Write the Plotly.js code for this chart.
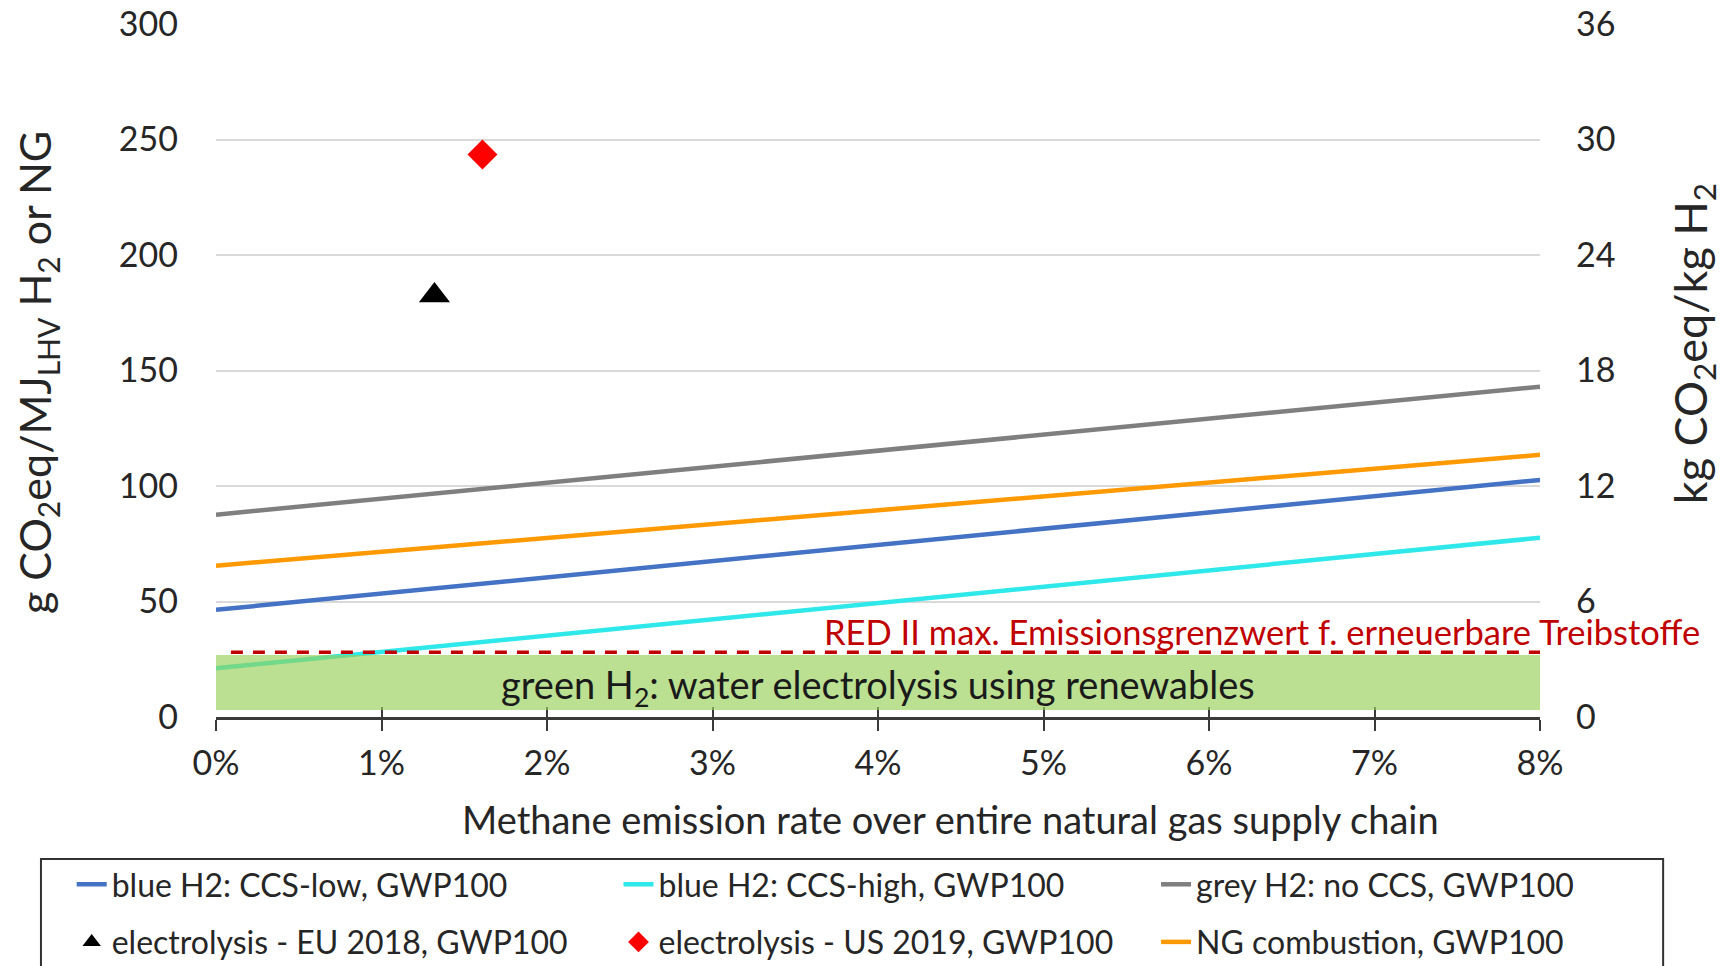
<!DOCTYPE html>
<html>
<head>
<meta charset="utf-8">
<script src="https://cdn.plot.ly/plotly-3.0.1.min.js"></script>
<style>html,body{margin:0;padding:0;background:#fff;}#chart{width:1724px;height:966px;}</style>
</head>
<body>
<div id="chart"></div>
<script>
// ---- data ----
const xPct = [0, 0.08];                 // methane emission rate
const blueLow = [46.4, 102.6];           // blue H2: CCS-low
const blueHigh = [21.1, 77.6];           // blue H2: CCS-high
const greyH2 = [87.6, 143.0];            // grey H2: no CCS
const ngComb = [65.5, 113.5];            // NG combustion
const euX = [0.0132], euY = [182.5];     // electrolysis EU 2018
const usX = [0.0161], usY = [243.5];     // electrolysis US 2019
const greenBandX = [0, 0.08];
const greenBandY = [3.0, 26.8];
const redLimitX = [0.0009, 0.0804];
const redLimitY = 28.0;
const xTickVals = [0, 0.01, 0.02, 0.03, 0.04, 0.05, 0.06, 0.07, 0.08];
const xTickText = ['0%', '1%', '2%', '3%', '4%', '5%', '6%', '7%', '8%'];
const leftTicks = [0, 50, 100, 150, 200, 250, 300];
const rightTicks = [0, 6, 12, 18, 24, 30, 36];

const FONT = 'Lato, "Open Sans", sans-serif';
const TXT = '#262626';

const traces = [
  {x: xPct, y: blueLow, mode: 'lines', name: 'blue H2: CCS-low, GWP100',
   line: {color: '#4472C4', width: 4.5}, legend: 'legend', legendgroup: 'a'},
  {x: euX, y: euY, mode: 'markers', name: 'electrolysis - EU 2018, GWP100',
   marker: {symbol: 'triangle-up', color: '#000000', size: 27}, legend: 'legend', legendgroup: 'b'},
  {x: xPct, y: blueHigh, mode: 'lines', name: 'blue H2: CCS-high, GWP100',
   line: {color: '#2EE8EA', width: 4.5}, legend: 'legend2', legendgroup: 'c'},
  {x: usX, y: usY, mode: 'markers', name: 'electrolysis - US 2019, GWP100',
   marker: {symbol: 'diamond', color: '#FF0000', size: 23}, legend: 'legend2', legendgroup: 'd'},
  {x: xPct, y: greyH2, mode: 'lines', name: 'grey H2: no CCS, GWP100',
   line: {color: '#7F7F7F', width: 4.5}, legend: 'legend3', legendgroup: 'e'},
  {x: xPct, y: ngComb, mode: 'lines', name: 'NG combustion, GWP100',
   line: {color: '#FF9900', width: 4.5}, legend: 'legend3', legendgroup: 'f'},
  // carriers for the secondary axes
  {x: [null], y: [null], yaxis: 'y2', showlegend: false, hoverinfo: 'skip'},
  {x: [null], y: [null], xaxis: 'x2', showlegend: false, hoverinfo: 'skip'}
];

const legendBase = {
  orientation: 'v', yanchor: 'top', xanchor: 'left', y: -0.202,
  bgcolor: 'rgba(0,0,0,0)', borderwidth: 0, tracegroupgap: 13,
  font: {family: FONT, size: 32, color: TXT}
};

const layout = {
  width: 1724, height: 966,
  margin: {l: 216, r: 184, t: 24, b: 249, autoexpand: false},
  paper_bgcolor: '#ffffff', plot_bgcolor: '#ffffff',
  font: {family: FONT, color: TXT},
  xaxis: {
    range: [0, 0.08], tickvals: xTickVals, ticktext: xTickText,
    showgrid: false, zeroline: false, showline: true, linecolor: '#3a3a3a', linewidth: 3,
    ticks: 'outside', ticklen: 11, tickwidth: 2, tickcolor: '#3a3a3a',
    ticklabelstandoff: 3, tickfont: {family: FONT, size: 34, color: TXT}
  },
  xaxis2: {
    overlaying: 'x', anchor: 'y', range: [0, 0.08], tickvals: xTickVals,
    showticklabels: false, showgrid: false, zeroline: false, showline: false,
    ticks: 'inside', ticklen: 10, tickwidth: 2, tickcolor: '#3a3a3a'
  },
  yaxis: {
    range: [0, 300], tickvals: leftTicks, showline: false, zeroline: false,
    showgrid: true, gridcolor: '#D9D9D9', gridwidth: 2, ticks: '',
    ticklabelstandoff: 37, tickfont: {family: FONT, size: 34, color: TXT}
  },
  yaxis2: {
    overlaying: 'y', side: 'right', anchor: 'x', range: [0, 36], tickvals: rightTicks,
    showgrid: false, zeroline: false, showline: false, ticks: '',
    ticklabelstandoff: 35, tickfont: {family: FONT, size: 34, color: TXT}
  },
  showlegend: true,
  legend: Object.assign({}, legendBase, {x: -0.109}),
  legend2: Object.assign({}, legendBase, {x: 0.304}),
  legend3: Object.assign({}, legendBase, {x: 0.71}),
  shapes: [
    {type: 'rect', xref: 'x', yref: 'y', x0: greenBandX[0], x1: greenBandX[1],
     y0: greenBandY[0], y1: greenBandY[1], fillcolor: 'rgba(150,207,86,0.65)',
     line: {width: 0}, layer: 'above'},
    {type: 'line', xref: 'x', yref: 'y', x0: redLimitX[0], x1: redLimitX[1],
     y0: redLimitY, y1: redLimitY, line: {color: '#C00000', width: 3.5, dash: '12px,10px'}, layer: 'above'},
    {type: 'rect', xref: 'paper', yref: 'paper', x0: -0.1322, x1: 1.093, y0: -0.205, y1: -0.6,
     line: {color: '#333333', width: 2}, fillcolor: 'rgba(0,0,0,0)', layer: 'below'}
  ],
  annotations: [
    {xref: 'x', yref: 'y', x: 0.04, y: 13, xanchor: 'center', yanchor: 'middle', showarrow: false,
     text: 'green H<sub>2</sub>: water electrolysis using renewables',
     font: {family: FONT, size: 38, color: '#1a1a1a'}},
    {xref: 'paper', yref: 'y', x: 1.1224, xanchor: 'right', yanchor: 'middle', y: 37.2, showarrow: false,
     text: 'RED II max. Emissionsgrenzwert f. erneuerbare Treibstoffe',
     font: {family: FONT, size: 34.5, color: '#C00000'}},
    {xref: 'paper', yref: 'paper', x: -0.1344, y: 0.4964, xanchor: 'center', yanchor: 'middle',
     showarrow: false, textangle: -90,
     text: 'g CO<sub>2</sub>eq/MJ<sub>LHV</sub> H<sub>2</sub> or NG',
     font: {family: FONT, size: 43, color: TXT}},
    {xref: 'paper', yref: 'paper', x: 1.1156, y: 0.538, xanchor: 'center', yanchor: 'middle',
     showarrow: false, textangle: -90,
     text: 'kg CO<sub>2</sub>eq/kg H<sub>2</sub>',
     font: {family: FONT, size: 45, color: TXT}},
    {xref: 'paper', yref: 'paper', x: 0.5544, y: -0.1472, xanchor: 'center', yanchor: 'middle',
     showarrow: false,
     text: 'Methane emission rate over entire natural gas supply chain',
     font: {family: FONT, size: 38, color: TXT}}
  ]
};

Plotly.newPlot('chart', traces, layout, {displayModeBar: false, responsive: false});
</script>
</body>
</html>
